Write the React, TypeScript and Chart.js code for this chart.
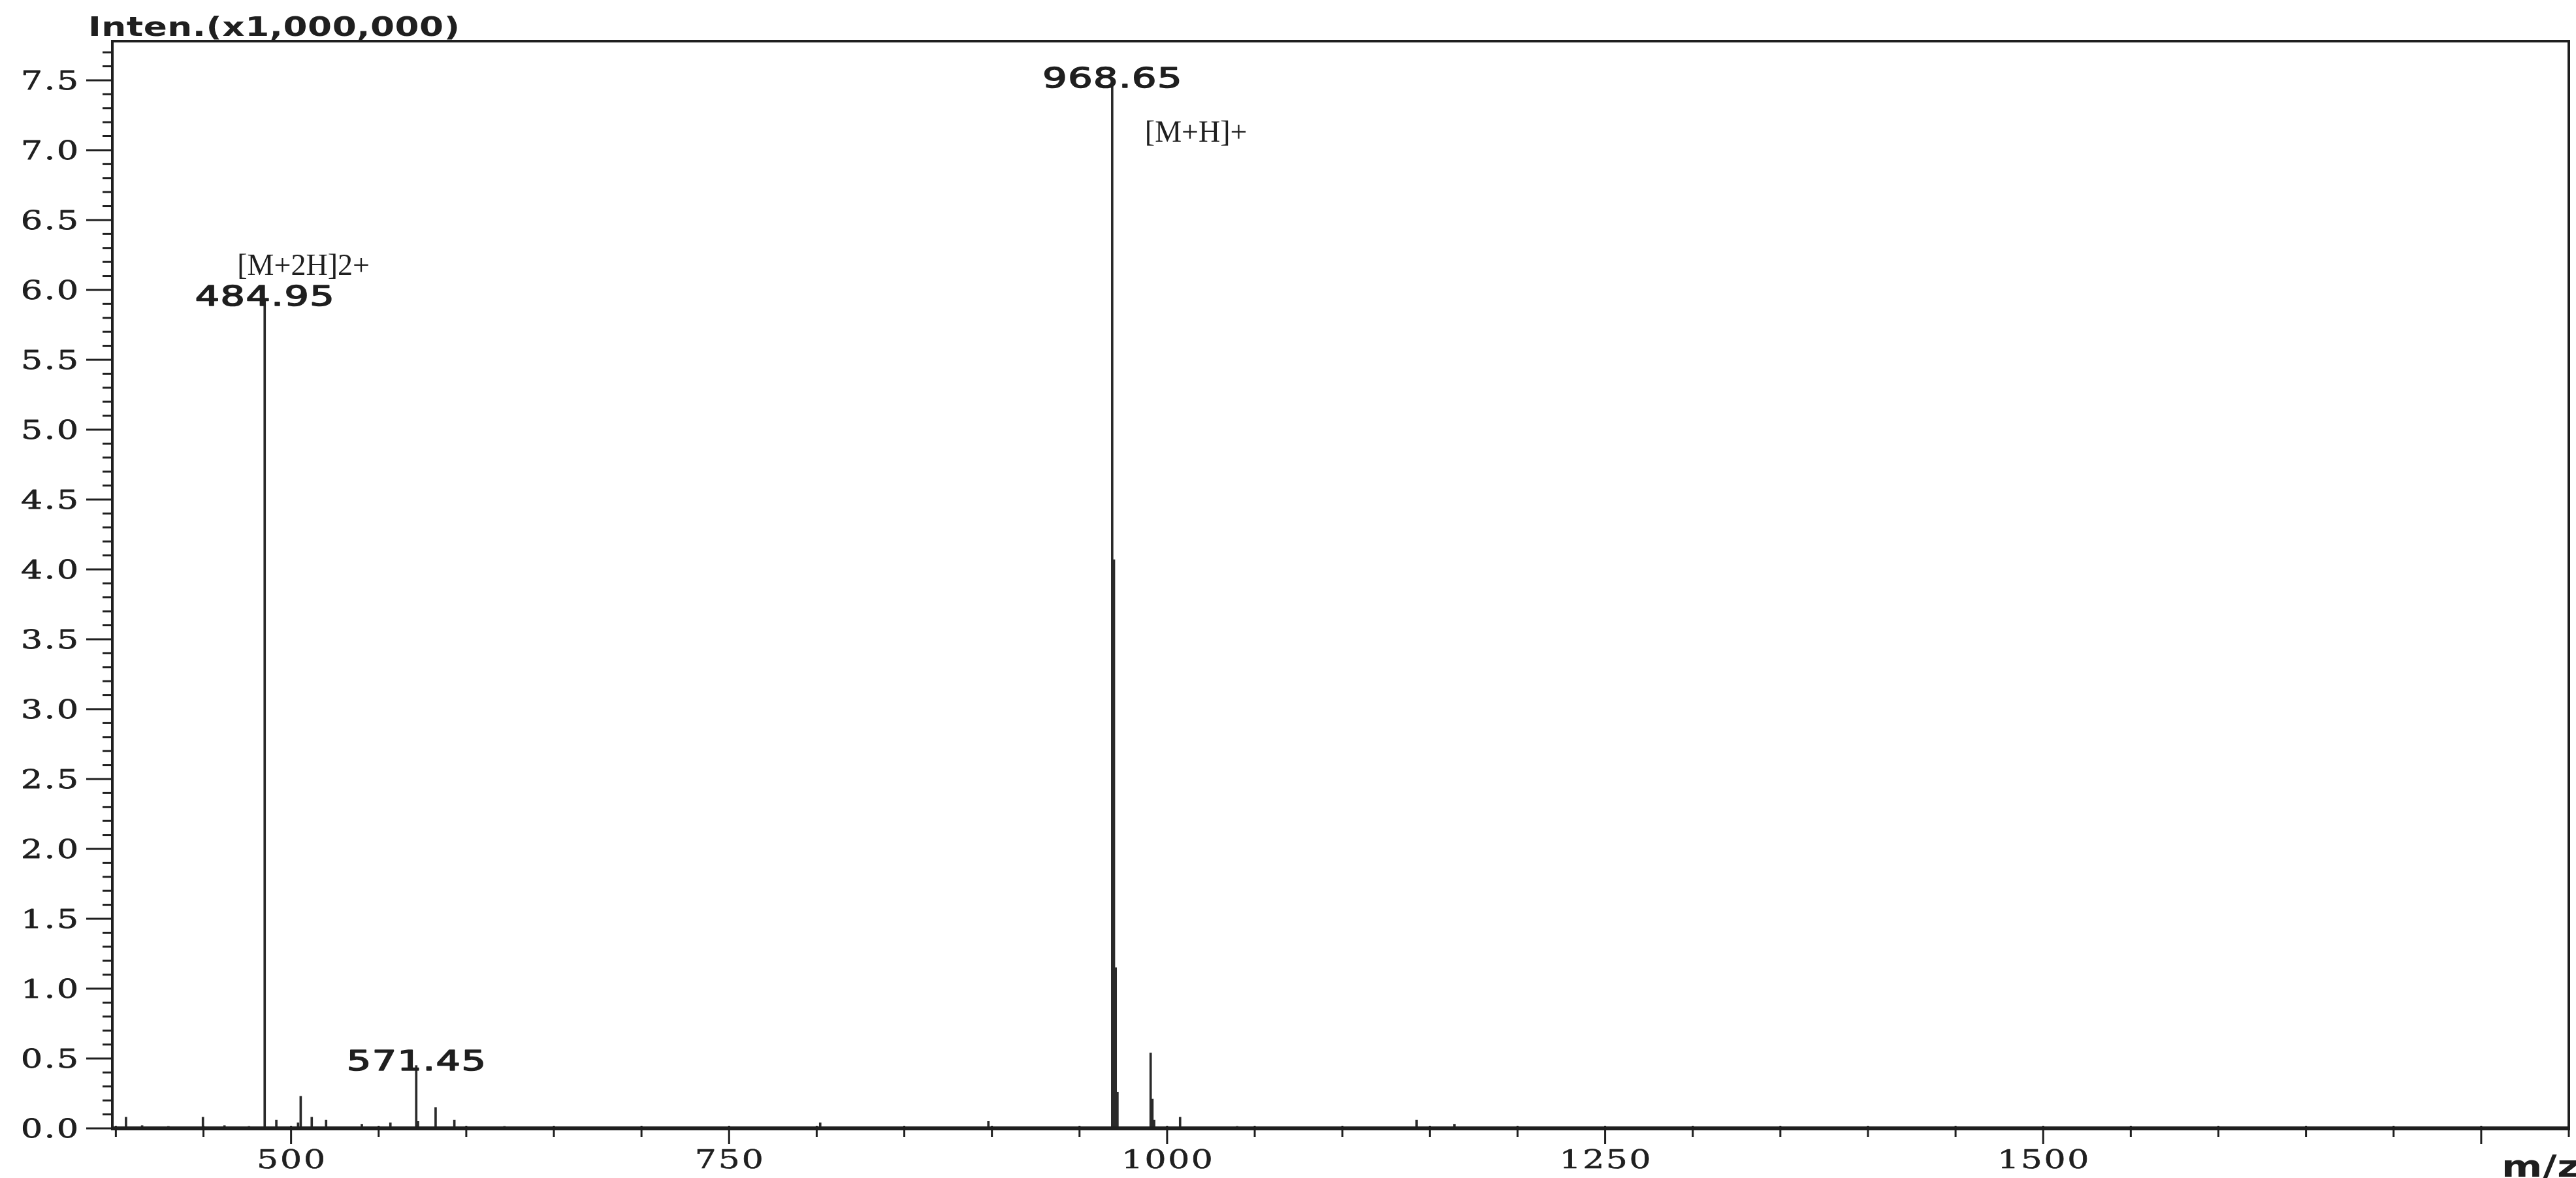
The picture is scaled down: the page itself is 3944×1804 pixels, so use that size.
import React, { useEffect, useRef } from "react";
import { Chart, registerables } from "chart.js";

Chart.register(...registerables);

// ---- data ----
const mzValues = [
  405.8, 415, 430, 449.7, 462, 476, 484.95, 491.6, 504, 505.5, 511.8, 520.0,
  540.4, 556.7, 571.45, 572.45, 582.5, 593.2, 621.8, 802, 898,
  968.65, 969.65, 970.65, 971.65, 990.6, 991.6, 992.6, 1007.4, 1040,
  1142.4, 1164,
];
const intensities = [
  0.08, 0.02, 0.015, 0.08, 0.02, 0.015, 5.92, 0.06, 0.04, 0.23, 0.08, 0.06,
  0.03, 0.04, 0.45, 0.05, 0.15, 0.06, 0.015, 0.04, 0.05,
  7.48, 4.07, 1.15, 0.26, 0.54, 0.21, 0.06, 0.08, 0.015,
  0.06, 0.03,
];

const yTickValues = [0, 0.5, 1, 1.5, 2, 2.5, 3, 3.5, 4, 4.5, 5, 5.5, 6, 6.5, 7, 7.5];
const yTickLabels = ["0.0", "0.5", "1.0", "1.5", "2.0", "2.5", "3.0", "3.5", "4.0", "4.5", "5.0", "5.5", "6.0", "6.5", "7.0", "7.5"];
const xTickValues = [500, 750, 1000, 1250, 1500];
const xTickLabels = ["500", "750", "1000", "1250", "1500"];

const peakLabelMz = [484.95, 571.45, 968.65];
const peakLabelText = ["484.95", "571.45", "968.65"];
const ionLabelMz = [484.95, 968.65];
const ionLabelText = ["[M+2H]2+", "[M+H]+"];

const yTitle = "Inten.(x1,000,000)";
const xTitle = "m/z";

const X_MIN = 398;
const X_MAX = 1800;
const Y_MIN = 0;
const Y_MAX = 7.78;

const INK = "#1f1f1f";

function drawText(
  ctx: CanvasRenderingContext2D,
  text: string,
  x: number,
  y: number,
  font: string,
  align: "left" | "center" | "right",
  width?: number,
  sx: number = 1,
  stroke: number = 0
) {
  ctx.save();
  ctx.font = font;
  (ctx as any).letterSpacing = "0px";
  const w0 = ctx.measureText(text).width;
  const n = Array.from(text).length;
  let ls = 0;
  if (width !== undefined && n > 1) ls = (width / sx - w0) / (n - 1);
  const total = width !== undefined ? width : w0 * sx;
  const left = align === "left" ? x : align === "center" ? x - total / 2 : x - total;
  ctx.translate(left, y);
  ctx.scale(sx, 1);
  (ctx as any).letterSpacing = ls + "px";
  ctx.textAlign = "left";
  ctx.textBaseline = "alphabetic";
  ctx.fillStyle = INK;
  ctx.fillText(text, 0, 0);
  if (stroke > 0) {
    ctx.strokeStyle = INK;
    ctx.lineWidth = stroke;
    ctx.lineJoin = "round";
    ctx.strokeText(text, 0, 0);
  }
  ctx.restore();
}

const decorPlugin = {
  id: "spectrumDecor",
  afterDraw(chart: any) {
    const ctx: CanvasRenderingContext2D = chart.ctx;
    const area = chart.chartArea;
    const xs = chart.scales.x;
    const ys = chart.scales.y;
    ctx.save();
    ctx.strokeStyle = INK;
    ctx.lineCap = "butt";

    // frame
    ctx.lineWidth = 4;
    ctx.strokeRect(area.left, area.top, area.right - area.left, area.bottom - area.top);
    ctx.lineWidth = 6;
    ctx.beginPath();
    ctx.moveTo(area.left - 2, area.bottom);
    ctx.lineTo(area.right + 2, area.bottom);
    ctx.stroke();

    // y ticks: minor every 0.1, major every 0.5
    ctx.lineWidth = 3;
    for (let i = 0; i <= Math.floor(Y_MAX * 10 + 1e-6); i++) {
      const v = i / 10;
      const py = ys.getPixelForValue(v);
      const major = i % 5 === 0;
      ctx.beginPath();
      ctx.moveTo(area.left - (major ? 40 : 15), py);
      ctx.lineTo(area.left, py);
      ctx.stroke();
    }
    // x ticks: minor every 50, major every 250
    for (let v = 400; v <= X_MAX; v += 50) {
      const px = xs.getPixelForValue(v);
      const major = v % 250 === 0;
      ctx.beginPath();
      ctx.moveTo(px, area.bottom - 4);
      ctx.lineTo(px, area.bottom + (major ? 24 : 13));
      ctx.stroke();
    }
    ctx.restore();

    // y tick labels
    yTickValues.forEach((v, i) => {
      const py = ys.getPixelForValue(v);
      drawText(ctx, yTickLabels[i], area.left - 52, py + 14, '40px "DejaVu Serif"', "right", 88, 1.3, 0.8);
    });
    // x tick labels
    xTickValues.forEach((v, i) => {
      const px = xs.getPixelForValue(v);
      const w = xTickLabels[i].length * 35;
      drawText(ctx, xTickLabels[i], px, area.bottom + 61, '40px "DejaVu Serif"', "center", w, 1.3, 0.6);
    });

    // axis titles
    drawText(ctx, yTitle, area.left - 37, area.top - 8, 'bold 41px "DejaVu Sans"', "left", 569, 1.3);
    drawText(ctx, xTitle, 3830, 1802, 'bold 46px "DejaVu Sans"', "left", 120, 1.3);

    // peak m/z labels
    peakLabelMz.forEach((m, i) => {
      const idx = mzValues.indexOf(m);
      const px = xs.getPixelForValue(m);
      const py = ys.getPixelForValue(intensities[idx]);
      drawText(ctx, peakLabelText[i], px, py + 7, '42px "DejaVu Sans"', "center", 213, 1.4, 1.6);
    });
    // ion labels
    const ionOffsets = [
      [-42, -40],
      [50, 90],
    ];
    ionLabelMz.forEach((m, i) => {
      const idx = mzValues.indexOf(m);
      const px = xs.getPixelForValue(m);
      const py = ys.getPixelForValue(intensities[idx]);
      drawText(ctx, ionLabelText[i], px + ionOffsets[i][0], py + ionOffsets[i][1], '46px "Liberation Serif"', "left");
    });
  },
};

export default function App() {
  const ref = useRef<HTMLCanvasElement | null>(null);

  useEffect(() => {
    document.body.style.margin = "0";
    document.body.style.background = "#ffffff";
    document.body.style.overflow = "hidden";
    if (!ref.current) return;
    const chart = new Chart(ref.current, {
      type: "bar",
      data: {
        datasets: [
          {
            data: mzValues.map((m, i) => ({ x: m, y: intensities[i] })),
            backgroundColor: "#2a2a2a",
            borderWidth: 0,
            barThickness: 3,
          } as any,
        ],
      },
      options: {
        responsive: false,
        animation: false,
        devicePixelRatio: 1,
        layout: { padding: { left: 172, right: 11, top: 63, bottom: 76 } },
        plugins: {
          legend: { display: false },
          tooltip: { enabled: false },
        },
        scales: {
          x: { type: "linear", min: X_MIN, max: X_MAX, offset: false, display: false },
          y: { type: "linear", min: Y_MIN, max: Y_MAX, display: false },
        },
      },
      plugins: [decorPlugin],
    });
    return () => chart.destroy();
  }, []);

  return (
    <div style={{ width: 3944, height: 1804, background: "#fff" }}>
      <canvas ref={ref} width={3944} height={1804} style={{ display: "block" }} />
    </div>
  );
}
